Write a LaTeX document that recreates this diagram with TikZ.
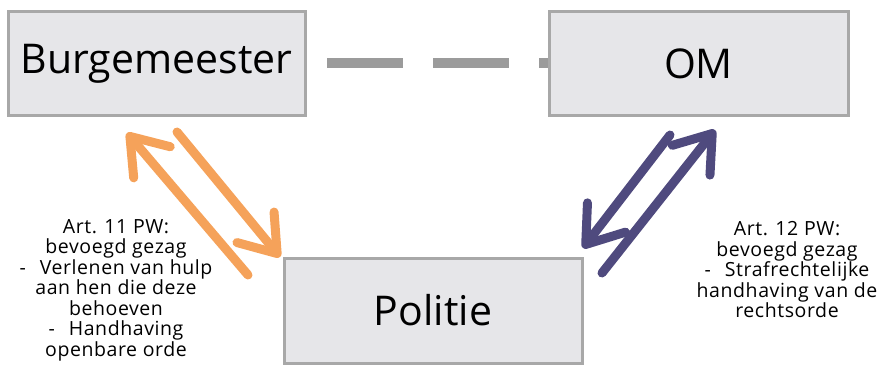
\documentclass[tikz,border=0pt]{standalone}
\usepackage{fontspec}
\setmainfont{Open Sans}
\newfontfamily\notefont{Open Sans}[LetterSpace=3]
\usetikzlibrary{arrows.meta}
\definecolor{boxfill}{HTML}{E6E6E9}
\definecolor{boxline}{HTML}{A8A8A8}
\definecolor{dashgray}{HTML}{9B9B9B}
\definecolor{orng}{HTML}{F5A25A}
\definecolor{purp}{HTML}{4F4A7E}
\tikzset{
  actor/.style={draw=boxline, line width=3pt, fill=boxfill, inner sep=0pt, font=\fontsize{41}{44}\selectfont},
  flow/.style={line width=9pt, line cap=round, -{Straight Barb[length=34pt, width=48pt, line cap=round, line join=round]}},
  note/.style={align=center, font=\notefont\fontsize{19.5}{20.5}\selectfont, inner sep=0pt}
}
\begin{document}
\begin{tikzpicture}[x=1pt, y=-1pt]
\useasboundingbox (0,0) rectangle (878,385);
\draw[dashgray, line width=10pt, dash pattern=on 76pt off 30pt, dash phase=84pt] (305,63) -- (549,63);
\node[actor, minimum width=297pt, minimum height=104pt] (bm) at (156.5,64) {Burgemeester};
\node[actor, minimum width=299pt, minimum height=104pt] (om) at (698.5,64) {OM};
\node[actor, minimum width=298pt, minimum height=105pt] (pol) at (433,310.5) {Politie};
\coordinate (a1s) at (248,275); \coordinate (a1e) at (127,133);
\coordinate (a2s) at (177,132); \coordinate (a2e) at (280,257);
\coordinate (a3s) at (670,135); \coordinate (a3e) at (583,248);
\coordinate (a4s) at (602,273); \coordinate (a4e) at (715,130);
\draw[flow, orng] (a1s) -- (a1e);
\draw[flow, orng] (a2s) -- (a2e);
\draw[flow, purp] (a3s) -- (a3e);
\draw[flow, purp] (a4s) -- (a4e);
\node[note] (lt) at (116,290) {Art. 11 PW:\\ bevoegd gezag\\ -\hspace{14pt}Verlenen van hulp\\ aan hen die deze\\ behoeven\\ -\hspace{14pt}Handhaving\\ openbare orde};
\node[note] (rt) at (787,270) {Art. 12 PW:\\ bevoegd gezag\\ -\hspace{14pt}Strafrechtelijke\\ handhaving van de\\ rechtsorde};
\end{tikzpicture}
\end{document}
